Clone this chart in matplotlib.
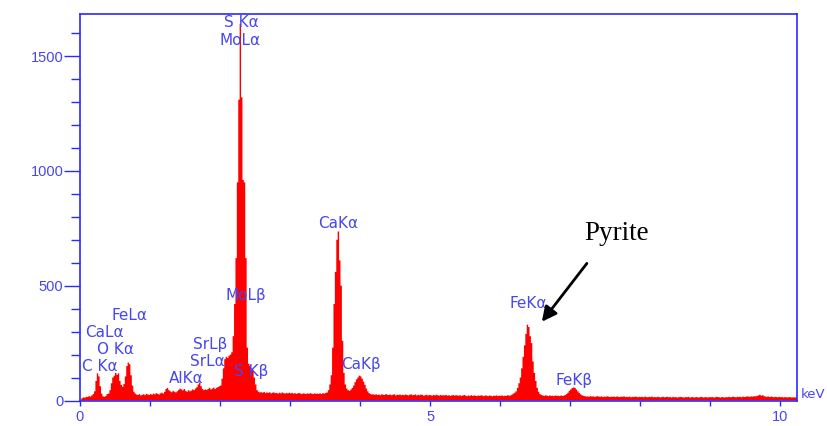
import numpy as np
import matplotlib
matplotlib.use('Agg')
import matplotlib.pyplot as plt
from matplotlib.ticker import MultipleLocator

# ---------------- data ----------------
channel_keV = 0.02   # channel width of the spectrum (keV)
counts = [
    4, 10, 14, 12, 16, 15, 19, 17, 22, 28,            # 0.00
    40, 85, 118, 105, 62, 30, 18, 16, 20, 28,         # 0.20
    30, 45, 75, 100, 108, 120, 112, 118, 85, 68,      # 0.40
    60, 72, 105, 150, 165, 158, 110, 65, 38, 30,      # 0.60
    26, 24, 28, 22, 25, 27, 23, 29, 26, 24,           # 0.80
    28, 25, 30, 27, 32, 29, 26, 31, 34, 30,           # 1.00
    38, 50, 55, 45, 40, 36, 42, 38, 35, 40,           # 1.20
    46, 52, 48, 44, 50, 42, 38, 45, 40, 43,           # 1.40
    48, 45, 52, 58, 70, 78, 62, 50, 45, 48,           # 1.60
    46, 50, 55, 48, 52, 56, 50, 55, 58, 62,           # 1.80
    65, 95, 140, 180, 190, 185, 195, 200, 210, 280,   # 2.00
    420, 620, 950, 1310, 1640, 1320, 960, 950, 620, 230,  # 2.20
    160, 150, 140, 130, 100, 70, 45, 38, 35, 36,      # 2.40
    34, 37, 32, 35, 33, 36, 31, 34, 35, 32,           # 2.60
    33, 30, 34, 31, 35, 32, 30, 33, 31, 34,           # 2.80
    31, 33, 30, 32, 29, 31, 33, 30, 28, 31,           # 3.00
    30, 28, 31, 29, 32, 30, 28, 31, 29, 30,           # 3.20
    29, 31, 28, 32, 30, 33, 35, 45, 70, 110,          # 3.40
    230, 420, 560, 700, 736, 610, 500, 260, 120, 70,  # 3.60
    52, 45, 42, 48, 55, 65, 80, 92, 100, 108,         # 3.80
    105, 95, 82, 68, 52, 40, 32, 28, 26, 27,          # 4.00
    25, 27, 24, 26, 23, 27, 25, 24, 28, 25,           # 4.20
    24, 26, 23, 25, 27, 22, 25, 24, 26, 23,           # 4.40
    25, 23, 26, 24, 22, 25, 27, 23, 24, 26,           # 4.60
    22, 25, 23, 26, 24, 21, 23, 25, 22, 24,           # 4.80
    23, 21, 24, 22, 25, 23, 21, 24, 22, 23,           # 5.00
    22, 24, 21, 23, 20, 22, 24, 21, 23, 22,           # 5.20
    21, 23, 20, 22, 24, 21, 19, 22, 20, 23,           # 5.40
    20, 22, 21, 19, 22, 20, 23, 21, 19, 22,           # 5.60
    21, 19, 22, 20, 18, 21, 20, 22, 19, 21,           # 5.80
    20, 22, 19, 21, 20, 23, 21, 22, 26, 30,           # 6.00
    34, 40, 55, 75, 100, 140, 190, 240, 290, 330,     # 6.20
    320, 280, 250, 170, 120, 85, 55, 38, 28, 24,      # 6.40
    22, 20, 23, 21, 19, 22, 20, 21, 19, 22,           # 6.60
    20, 21, 19, 22, 20, 21, 24, 28, 34, 42,           # 6.80
    48, 54, 57, 55, 48, 40, 33, 27, 23, 20,           # 7.00
    19, 17, 18, 16, 19, 17, 18, 16, 17, 19,           # 7.20
    17, 16, 18, 15, 17, 16, 18, 17, 15, 17,           # 7.40
    16, 17, 15, 18, 16, 15, 17, 16, 18, 15,           # 7.60
    16, 15, 17, 14, 16, 15, 17, 16, 14, 16,           # 7.80
    15, 16, 14, 17, 15, 14, 16, 15, 17, 14,           # 8.00
    15, 14, 16, 15, 13, 15, 16, 14, 15, 16,           # 8.20
    14, 15, 13, 16, 14, 15, 13, 14, 16, 15,           # 8.40
    14, 13, 15, 14, 16, 13, 14, 15, 13, 14,           # 8.60
    15, 13, 14, 16, 14, 13, 15, 14, 13, 15,           # 8.80
    14, 15, 13, 14, 16, 15, 14, 13, 15, 14,           # 9.00
    13, 15, 14, 16, 14, 15, 17, 15, 14, 16,           # 9.20
    15, 16, 14, 17, 15, 16, 18, 17, 16, 18,           # 9.40
    17, 19, 18, 20, 22, 25, 21, 23, 19, 17,           # 9.60
    16, 18, 15, 17, 16, 14, 16, 15, 14, 16,           # 9.80
    14, 15, 13, 15, 14, 13, 15, 14, 13, 14,           # 10.00
    13, 14,                                           # 10.20
]

peak_labels = ['S K\u03b1', 'MoL\u03b1', 'MoL\u03b2', 'FeL\u03b1', 'CaL\u03b1',
               'O K\u03b1', 'C K\u03b1', 'AlK\u03b1', 'SrL\u03b2', 'SrL\u03b1',
               'S K\u03b2', 'CaK\u03b2', 'CaK\u03b1', 'FeK\u03b1', 'FeK\u03b2']
peak_label_keV = [2.30, 2.286, 2.371, 0.714, 0.343, 0.514, 0.286, 1.514,
                  1.857, 1.814, 2.443, 4.014, 3.686, 6.40, 7.057]
peak_label_counts = [1648, 1569, 459, 372, 297, 223, 150, 97,
                     242, 169, 128, 158, 771, 423, 89]

y_ticks = [0, 500, 1000, 1500]
x_ticks = [0, 5, 10]

# ---------------- style ----------------
BLUE = '#2a2aff'
TXT = '#4646f2'
FONT = 'Liberation Sans'
LABEL_FONT = 'DejaVu Sans'

fig = plt.figure(figsize=(8.27, 4.26), dpi=100)
ax = fig.add_axes([80 / 827, 25.5 / 426, 717 / 827, 386.5 / 426])

edges = np.arange(len(counts) + 1) * channel_keV
ax.stairs(counts, edges, fill=True, color='#ff0000', linewidth=0)

ax.set_xlim(0, 10.24)
ax.set_ylim(0, 1683)

for s in ax.spines.values():
    s.set_color(BLUE)
    s.set_linewidth(1.2)

ax.set_yticks(y_ticks)
ax.yaxis.set_minor_locator(MultipleLocator(100))
ax.set_xticks(x_ticks)
ax.xaxis.set_minor_locator(MultipleLocator(1))

ax.tick_params(axis='y', which='major', direction='out', length=11.5, width=1,
               color=BLUE, pad=0.5, labelsize=10.5, labelcolor=TXT)
ax.tick_params(axis='y', which='minor', direction='out', length=6.5, width=1,
               color=BLUE)
ax.tick_params(axis='x', which='both', direction='out', length=3.6, width=1,
               color=BLUE, pad=3.5, labelsize=10.5, labelcolor=TXT)
for lab in ax.get_xticklabels() + ax.get_yticklabels():
    lab.set_fontfamily(FONT)

for txt, xk, yc in zip(peak_labels, peak_label_keV, peak_label_counts):
    ax.text(xk, yc, txt, ha='center', va='center', color=TXT,
            fontsize=11, family=LABEL_FONT, clip_on=False)

fig.text(825 / 827, 1 - 394 / 426, 'keV', ha='right', va='center',
         color=TXT, fontsize=9.5, family=LABEL_FONT)

ax.text(7.657, 729, 'Pyrite', ha='center', va='center', color='black',
        fontsize=19.5, family='Liberation Serif')
ax.annotate('', xy=(6.596, 343), xytext=(7.239, 597),
            arrowprops=dict(arrowstyle='-|>', lw=2, color='black',
                            mutation_scale=22, shrinkA=0, shrinkB=0))

fig.savefig('out.png', dpi=100)
